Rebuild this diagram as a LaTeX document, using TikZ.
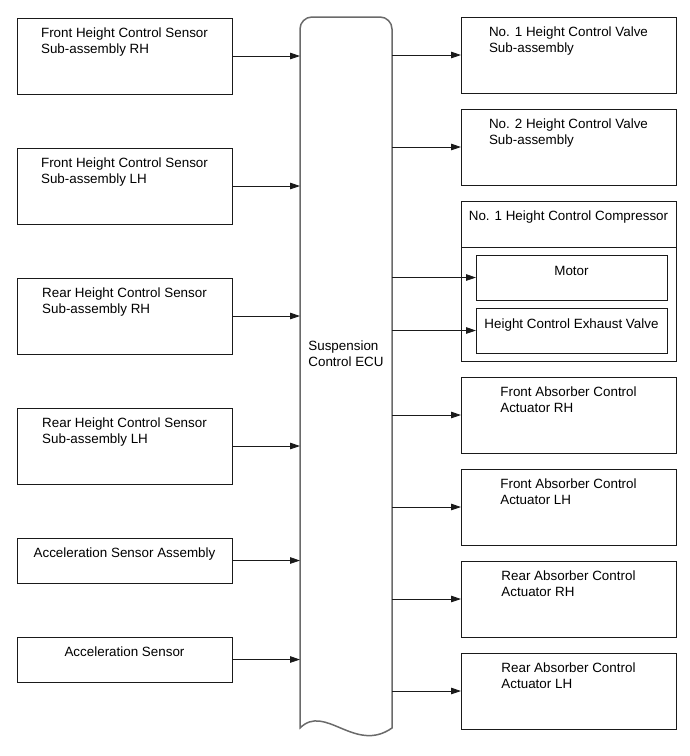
\documentclass[tikz,border=0pt]{standalone}
\usepackage{fontspec}
\setmainfont{Liberation Sans}
\usepackage{xcolor}
\usepackage{tikz}
\usetikzlibrary{positioning,arrows.meta,calc}
\definecolor{edge}{HTML}{1A1A1A}
\definecolor{ecuedge}{HTML}{6A6A6A}
\tikzset{
    unit/.style={rectangle, draw=edge, line width=0.9pt, minimum width=215, minimum height=76, inner sep=0pt, outer sep=0pt},
    shortunit/.style={unit, minimum height=45},
    part/.style={rectangle, draw=edge, line width=0.9pt, minimum width=191, minimum height=45, inner sep=0pt, outer sep=0pt},
    caption/.style={align=left, inner sep=0pt, font=\fontsize{13.4}{16}\selectfont},
    eculine/.style={draw=ecuedge, line width=1.5pt},
    arrow/.style={-{Triangle[length=10pt, width=6.5pt]}, line width=0.8pt, color=edge}
}
\begin{document}
\begin{tikzpicture}[x=1pt, y=-1pt]
\useasboundingbox (0,0) rectangle (690,756);

% ECU
\node[minimum width=92, minimum height=711, inner sep=0pt, outer sep=0pt] (ecu) at (346,372.5) {};
\draw[eculine] (ecu.south west) [rounded corners=12pt] -- (ecu.north west) -- (ecu.north east) [sharp corners] -- (ecu.south east)
    .. controls ($(ecu.south east)+(-37,26)$) and ($(ecu.south west)+(25,-25)$) .. (ecu.south west) -- cycle;
\node[caption, anchor=center] (ecu-t) at ([yshift=19pt]ecu.center) {Suspension\\Control ECU};

% Sensors (inputs)
\node[unit, anchor=north west] at (17,18) (fhr) {};
\node[unit, below=54pt of fhr] (fhl) {};
\node[unit, below=54pt of fhl] (rhr) {};
\node[unit, below=54pt of rhr] (rhl) {};
\node[shortunit, below=54pt of rhl] (acca) {};
\node[shortunit, below=54pt of acca] (acc) {};

\node[caption, below=10pt of fhr.north] (fhr-t) {Front Height Control Sensor\\Sub-assembly RH};
\node[caption, below=10pt of fhl.north] (fhl-t) {Front Height Control Sensor\\Sub-assembly LH};
\node[caption, below=10pt of rhr.north] (rhr-t) {Rear Height Control Sensor\\Sub-assembly RH};
\node[caption, below=10pt of rhl.north] (rhl-t) {Rear Height Control Sensor\\Sub-assembly LH};
\node[caption, below=10pt of acca.north] (acca-t) {Acceleration Sensor Assembly};
\node[caption, below=10pt of acc.north] (acc-t) {Acceleration Sensor};

\foreach \s in {fhr,fhl,rhr,rhl,acca,acc}
    \draw[arrow] (\s.east) -- (\s.east -| ecu.west);

% Valves and compressor (outputs)
\node[unit, anchor=north west] at (461,17) (hv1) {};
\node[unit, below=16pt of hv1] (hv2) {};
\node[unit, minimum height=160, below=16pt of hv2] (cmp) {};
\node[unit, below=16pt of cmp] (far) {};
\node[unit, below=16pt of far] (fal) {};
\node[unit, below=16pt of fal] (rar) {};
\node[unit, below=16pt of rar] (ral) {};

\draw[edge, line width=0.9pt] ([yshift=-46pt]cmp.north west) -- ([yshift=-46pt]cmp.north east);
\node[part, below right=54pt and 15pt of cmp.north west] (mot) {};
\node[part, below=8pt of mot] (exv) {};

\node[caption, below=10pt of hv1.north] (hv1-t) {No. 1 Height Control Valve\\Sub-assembly};
\node[caption, below=10pt of hv2.north] (hv2-t) {No. 2 Height Control Valve\\Sub-assembly};
\node[caption, below=10pt of cmp.north] (cmp-t) {No. 1 Height Control Compressor};
\node[caption, below=11pt of mot.north] (mot-t) {Motor};
\node[caption, below=11pt of exv.north] (exv-t) {Height Control Exhaust Valve};
\node[caption, below=10pt of far.north] (far-t) {Front Absorber Control\\Actuator RH};
\node[caption, below=10pt of fal.north] (fal-t) {Front Absorber Control\\Actuator LH};
\node[caption, below=10pt of rar.north] (rar-t) {Rear Absorber Control\\Actuator RH};
\node[caption, below=10pt of ral.north] (ral-t) {Rear Absorber Control\\Actuator LH};

\foreach \a in {hv1,hv2,mot,exv,far,fal,rar,ral}
    \draw[arrow] (\a.west -| ecu.east) -- (\a.west);

\end{tikzpicture}
\end{document}
